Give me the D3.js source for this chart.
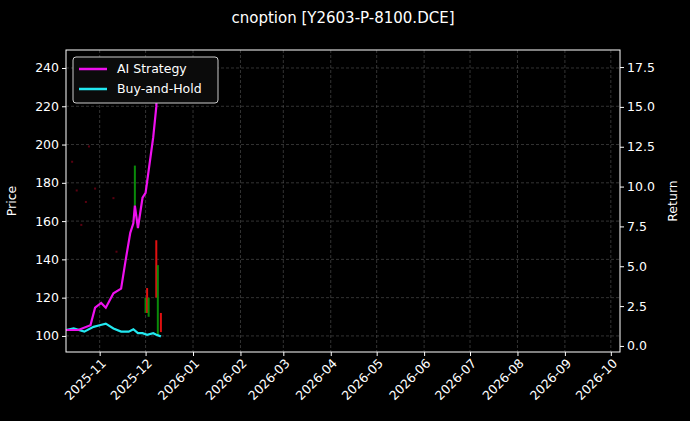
<!DOCTYPE html>
<html><head><meta charset="utf-8">
<script src="https://cdn.jsdelivr.net/npm/d3@7"></script>
<style>body{margin:0;background:#000}text{font-family:"DejaVu Sans",sans-serif}</style>
</head><body>
<svg id="mainsvg" width="690" height="421"></svg>
<script>
// strategy / benchmark returns
const lineDates = ['2025-10-10','2025-10-18','2025-10-26','2025-10-29','2025-11-02','2025-11-05','2025-11-10','2025-11-15','2025-11-18','2025-11-21','2025-11-23','2025-11-24','2025-11-26','2025-11-29','2025-12-01','2025-12-06','2025-12-08','2025-12-09']
const aiReturn = [1.0,1.0,1.3,2.4,2.7,2.4,3.3,3.6,5.4,7.1,7.7,8.8,7.4,9.3,9.6,13.1,15.0,17.7]
const bhDates = ['2025-10-10','2025-10-15','2025-10-22','2025-10-28','2025-11-01','2025-11-05','2025-11-10','2025-11-15','2025-11-20','2025-11-23','2025-11-26','2025-11-29','2025-12-02','2025-12-06','2025-12-08','2025-12-11']
const bhReturn = [1.0,1.1,0.9,1.2,1.3,1.4,1.1,0.9,0.9,1.05,0.8,0.8,0.7,0.8,0.7,0.6]
// candles: date, open, close
const candleDates = ['2025-11-24','2025-12-01','2025-12-02','2025-12-03','2025-12-08','2025-12-09','2025-12-11']
const candleOpen = [168,112,125,110,150,100,112]
const candleClose = [189,120,112,120,120,137,102]
// faint early bars
const dotDates = ['2025-10-14','2025-10-17','2025-10-20','2025-10-23','2025-10-25','2025-10-29','2025-11-10','2025-11-12']
const dotPrice = [191,176,158,170,199,177,172,144]
const xTicks = ['2025-11','2025-12','2026-01','2026-02','2026-03','2026-04','2026-05','2026-06','2026-07','2026-08','2026-09','2026-10']

const svg = d3.select('#mainsvg')
const parse = d3.timeParse('%Y-%m-%d')
const m = {l:66, r:620, t:50, b:352}
svg.append('rect').attr('width',690).attr('height',421).attr('fill','#000')

let x = d3.scaleTime().domain([parse('2025-10-10'), parse('2026-10-07')]).range([m.l,m.r])
let yP = d3.scaleLinear().domain([91.6,249.4]).range([m.b,m.t])
let yR = d3.scaleLinear().domain([-0.38,18.57]).range([m.b,m.t])

const tickDates = xTicks.map(d => parse(d + '-01'))
const pTicks = d3.range(100,241,20)
const rTicks = d3.range(0,17.6,2.5)

// grid
const grid = svg.append('g').attr('stroke','#555').attr('stroke-width',0.6).attr('stroke-dasharray','3,2')
tickDates.forEach(d => grid.append('line').attr('x1',x(d)).attr('x2',x(d)).attr('y1',m.t).attr('y2',m.b))
pTicks.forEach(v => grid.append('line').attr('x1',m.l).attr('x2',m.r).attr('y1',yP(v)).attr('y2',yP(v)))

// faint dots
svg.selectAll('.dot').data(dotDates).enter().append('rect')
    .attr('x',(d)=>x(parse(d))-1).attr('y',(d,i)=>yP(dotPrice[i])-1)
    .attr('width',2).attr('height',2).attr('fill','#5a0010')

// candles
svg.selectAll('.candle').data(candleDates).enter().append('rect')
    .attr('x',d=>x(parse(d))-1)
    .attr('y',(d,i)=>yP(Math.max(candleOpen[i],candleClose[i])))
    .attr('width',2)
    .attr('height',(d,i)=>Math.abs(yP(candleOpen[i])-yP(candleClose[i])))
    .attr('fill',(d,i)=>candleClose[i]>=candleOpen[i] ? '#0a8a0a' : '#e01010')

const line = d3.line().x(d=>x(d[0])).y(d=>yR(d[1]))
svg.append('path').attr('d',line(bhDates.map((d,i)=>[parse(d),bhReturn[i]])))
    .attr('fill','none').attr('stroke','#22e8f0').attr('stroke-width',2.2)
svg.append('path').attr('d',line(lineDates.map((d,i)=>[parse(d),aiReturn[i]])))
    .attr('fill','none').attr('stroke','#ee10ee').attr('stroke-width',2.2)

// frame
svg.append('rect').attr('x',m.l).attr('y',m.t).attr('width',m.r-m.l).attr('height',m.b-m.t)
    .attr('fill','none').attr('stroke','#fff').attr('stroke-width',1)

// axes
const axL = svg.append('g').attr('transform',`translate(${m.l},0)`).call(d3.axisLeft(yP).tickValues(pTicks).tickSize(4))
const axR = svg.append('g').attr('transform',`translate(${m.r},0)`).call(d3.axisRight(yR).tickValues(rTicks).tickFormat(d3.format('.1f')).tickSize(4))
const axB = svg.append('g').attr('transform',`translate(0,${m.b})`).call(d3.axisBottom(x).tickValues(tickDates).tickFormat(d3.timeFormat('%Y-%m')).tickSize(4))
;[axL,axR,axB].forEach(a => {
    a.select('.domain').remove()
    a.selectAll('line').attr('stroke','#fff')
    a.selectAll('text').attr('fill','#fff').style('font-size','12.5px')
})
axB.selectAll('text').attr('text-anchor','end').attr('dx','-0.3em').attr('dy','0.5em').attr('transform','rotate(-45)')

svg.append('text').attr('x',16).attr('y',(m.t+m.b)/2).attr('fill','#fff').attr('font-size',12.5)
    .attr('text-anchor','middle').attr('transform',`rotate(-90,16,${(m.t+m.b)/2})`).text('Price')
svg.append('text').attr('x',677).attr('y',(m.t+m.b)/2).attr('fill','#fff').attr('font-size',12.5)
    .attr('text-anchor','middle').attr('transform',`rotate(-90,677,${(m.t+m.b)/2})`).text('Return')
svg.append('text').attr('x',343).attr('y',23).attr('fill','#fff').attr('font-size',15)
    .attr('text-anchor','middle').text('cnoption [Y2603-P-8100.DCE]')

// legend
const lg = svg.append('g').attr('transform','translate(73,57)')
lg.append('rect').attr('width',145).attr('height',46).attr('rx',3).attr('fill','#0b0b0b').attr('stroke','#ccc')
;[['AI Strategy','#ee10ee'],['Buy-and-Hold','#22e8f0']].forEach((s,i) => {
    lg.append('line').attr('x1',6).attr('x2',34).attr('y1',12+i*20).attr('y2',12+i*20).attr('stroke',s[1]).attr('stroke-width',2.5)
    lg.append('text').attr('x',44).attr('y',16+i*20).attr('fill','#fff').attr('font-size',12.5).text(s[0])
})
</script>
</body></html>
